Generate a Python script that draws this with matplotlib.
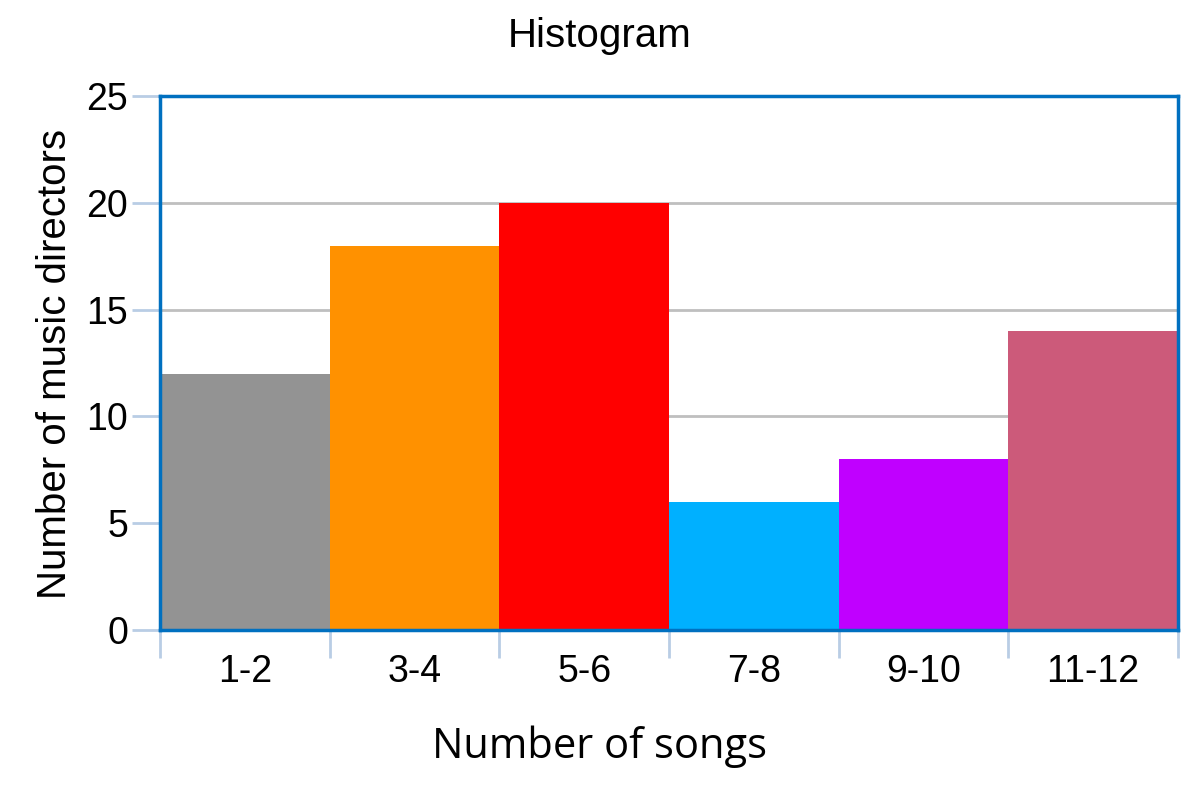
import matplotlib.pyplot as plt
import numpy as np

categories = ['1-2', '3-4', '5-6', '7-8', '9-10', '11-12']
counts = [12, 18, 20, 6, 8, 14]
colors = ['#939393', '#FF9100', '#FF0000', '#00B0FF', '#C000FF', '#CC5A7A']

plt.rcParams['font.family'] = ['Liberation Sans', 'DejaVu Sans']

fig = plt.figure(figsize=(12, 8), dpi=100)
ax = fig.add_axes([0.1333, 0.2125, 0.8483, 0.6675])

x = np.arange(len(categories))
ax.bar(x, counts, width=1.0, align='edge', color=colors, zorder=2)

ax.set_xlim(0, len(categories))
ax.set_ylim(0, 25)
ax.set_yticks(np.arange(0, 26, 5))
ax.grid(axis='y', color='#BFBFBF', linewidth=2, zorder=1)

# category boundaries get tick marks, labels sit in the middle
ax.set_xticks(np.arange(len(categories) + 1))
ax.set_xticklabels([])
ax.set_xticks(x + 0.5, minor=True)
ax.set_xticklabels(categories, minor=True)
ax.tick_params(axis='x', which='minor', length=0, pad=17, labelsize=27)
ax.tick_params(axis='x', which='major', length=20, width=2, color='#B9CDE5')
ax.tick_params(axis='y', length=20, width=2, color='#B9CDE5', pad=3, labelsize=27)

for s in ax.spines.values():
    s.set_color('#0070C0')
    s.set_linewidth(2.5)
    s.set_zorder(3)

fig.text(0.046, 0.545, 'Number of music directors', rotation=90,
         ha='center', va='center', fontsize=29)
fig.text(0.5, 0.067, 'Number of songs', ha='center', va='center',
         fontsize=30, family=['Open Sans', 'DejaVu Sans'])
fig.text(0.5, 0.955, 'Histogram', ha='center', va='center', fontsize=29)

fig.savefig('out.png', dpi=100)
